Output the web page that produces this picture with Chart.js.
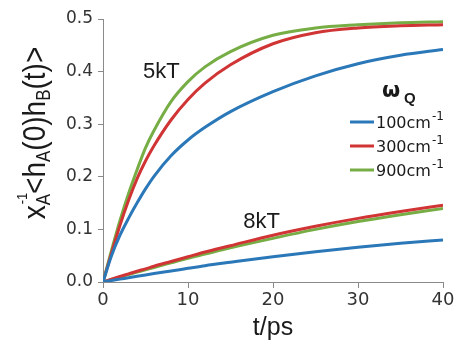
<!DOCTYPE html>
<html>
<head>
<meta charset="utf-8">
<script src="https://cdn.jsdelivr.net/npm/chart.js@4/dist/chart.umd.min.js"></script>
<style>
  html, body { margin: 0; padding: 0; background: #fff; }
  #wrap { width: 457px; height: 343px; }
</style>
</head>
<body>
<div id="wrap"><canvas id="myChart"></canvas></div>
<script>
// time axis (ps) and curves
const times = [0, 1, 2, 3, 4, 5, 6, 8, 10, 12, 15, 20, 25, 30, 35, 40];

const blue5kT  = [0, 0.05, 0.089, 0.121, 0.15, 0.177, 0.201, 0.24, 0.27, 0.294, 0.324, 0.362, 0.392, 0.415, 0.431, 0.442];
const red5kT   = [0, 0.055, 0.108, 0.155, 0.196, 0.23, 0.259, 0.308, 0.347, 0.378, 0.413, 0.453, 0.474, 0.483, 0.487, 0.489];
const green5kT = [0, 0.06, 0.117, 0.168, 0.213, 0.255, 0.288, 0.343, 0.381, 0.409, 0.438, 0.469, 0.483, 0.489, 0.493, 0.495];

const blue8kT  = [0, 0.0028, 0.0055, 0.0082, 0.0109, 0.0135, 0.016, 0.021, 0.026, 0.031, 0.0375, 0.048, 0.0575, 0.066, 0.0735, 0.08];
const red8kT   = [0, 0.0053, 0.0104, 0.0154, 0.0204, 0.025, 0.03, 0.039, 0.048, 0.057, 0.069, 0.089, 0.106, 0.121, 0.134, 0.146];
const green8kT = [0, 0.0048, 0.0095, 0.0141, 0.0187, 0.023, 0.0276, 0.0363, 0.045, 0.053, 0.065, 0.083, 0.1, 0.115, 0.128, 0.14];

const freqs = ["100", "300", "900"];
const yTicks = [0, 0.1, 0.2, 0.3, 0.4, 0.5];
const xTicks = [0, 10, 20, 30, 40];

const colors = ["#2b78b9", "#d03434", "#77ad45"];
const cxt = document.querySelector("#myChart");

function pts(vals) {
  return times.map((t, i) => ({ x: t, y: vals[i] }));
}

function makeSet(label, vals, color) {
  return {
    label: label,
    data: pts(vals),
    borderColor: color,
    backgroundColor: color,
    borderWidth: 3,
    pointRadius: 0,
    cubicInterpolationMode: "monotone",
    fill: false,
  };
}

const datasets = [
  makeSet(freqs[0], blue5kT, colors[0]),
  makeSet(freqs[1], red5kT, colors[1]),
  makeSet(freqs[2], green5kT, colors[2]),
  makeSet(freqs[0], blue8kT, colors[0]),
  makeSet(freqs[1], red8kT, colors[1]),
  makeSet(freqs[2], green8kT, colors[2]),
];

// y title with sub/superscripts, curve labels and the legend
const overlay = {
  id: "overlay",
  afterDraw(chart) {
    const ctx = chart.ctx;
    const xs = chart.scales.x, ys = chart.scales.y;
    ctx.save();
    ctx.fillStyle = "#1a1a1a";
    ctx.textBaseline = "alphabetic";

    // temperature labels
    ctx.font = '22px "Liberation Sans"';
    ctx.fillText("5kT", xs.getPixelForValue(4.7), ys.getPixelForValue(0.403) + 8);
    ctx.fillText("8kT", xs.getPixelForValue(16.5), ys.getPixelForValue(0.118) + 8);

    // y axis title, rotated
    const main = '28px "Liberation Sans"';
    const sub = '17px "Liberation Sans"';
    const sup = '13px "Liberation Sans"';
    const segs = [
      { t: "x", f: main, dy: 0 },
      { t: "A", f: sub, dy: 4, s: "-1" },
      { t: "<h", f: main, dy: 0 },
      { t: "A", f: sub, dy: 4 },
      { t: "(0)h", f: main, dy: 0 },
      { t: "B", f: sub, dy: 4 },
      { t: "(t)>", f: main, dy: 0 },
    ];
    let total = 0;
    segs.forEach((g) => { ctx.font = g.f; g.w = ctx.measureText(g.t).width; total += g.w; });
    ctx.translate(45, 133);
    ctx.rotate(-Math.PI / 2);
    ctx.scale(1, 1.15);
    let x = -total / 2;
    segs.forEach((g) => {
      ctx.font = g.f;
      ctx.fillText(g.t, x, g.dy);
      if (g.s) { ctx.font = sup; ctx.fillText(g.s, x + 1, -16); }
      x += g.w;
    });
    ctx.restore();

    // legend
    ctx.save();
    ctx.fillStyle = "#1a1a1a";
    ctx.font = 'bold 21px "DejaVu Sans"';
    ctx.textBaseline = "alphabetic";
    ctx.fillText("\u03c9", 382, 97);
    ctx.font = 'bold 15px "Liberation Sans"';
    ctx.fillText("Q", 404, 103);
    for (let i = 0; i < freqs.length; i++) {
      const yy = 122 + i * 24;
      ctx.strokeStyle = colors[i];
      ctx.lineWidth = 3;
      ctx.beginPath();
      ctx.moveTo(350, yy);
      ctx.lineTo(374, yy);
      ctx.stroke();
      ctx.font = '16px "DejaVu Sans"';
      const txt = freqs[i] + "cm";
      ctx.fillText(txt, 376, yy + 6);
      const w = ctx.measureText(txt).width;
      ctx.font = '12px "DejaVu Sans"';
      ctx.fillText("-1", 376 + w + 1, yy - 2);
    }
    ctx.restore();
  },
};

const config = {
  type: "line",
  data: { datasets: datasets },
  options: {
    responsive: true,
    maintainAspectRatio: false,
    devicePixelRatio: 1,
    animation: false,
    layout: { padding: { top: 19, right: 14, bottom: 0, left: 0 } },
    plugins: { legend: { display: false }, tooltip: { enabled: false } },
    scales: {
      x: {
        type: "linear",
        min: 0,
        max: 40,
        afterBuildTicks: (s) => { s.ticks = xTicks.map((v) => ({ value: v })); },
        afterFit: (s) => { s.height = 61; },
        grid: { drawOnChartArea: false, color: "#8a8a8a", tickLength: 6 },
        border: { color: "#8a8a8a", width: 1 },
        ticks: { color: "#333", font: { family: "DejaVu Sans", size: 18 }, padding: 2, maxRotation: 0 },
        title: { display: true, text: "t/ps", color: "#1a1a1a", font: { family: "Liberation Sans", size: 25 }, padding: { top: 0, bottom: 0 } },
      },
      y: {
        min: 0,
        max: 0.5,
        afterBuildTicks: (s) => { s.ticks = yTicks.map((v) => ({ value: v })); },
        afterFit: (s) => { s.width = 103; },
        grid: { drawOnChartArea: false, color: "#8a8a8a", tickLength: 5 },
        border: { color: "#8a8a8a", width: 1 },
        ticks: { color: "#333", font: { family: "DejaVu Sans", size: 17 }, padding: 5, callback: (v) => v.toFixed(1) },
      },
    },
  },
  plugins: [overlay],
};

new Chart(cxt, config);
</script>
</body>
</html>
